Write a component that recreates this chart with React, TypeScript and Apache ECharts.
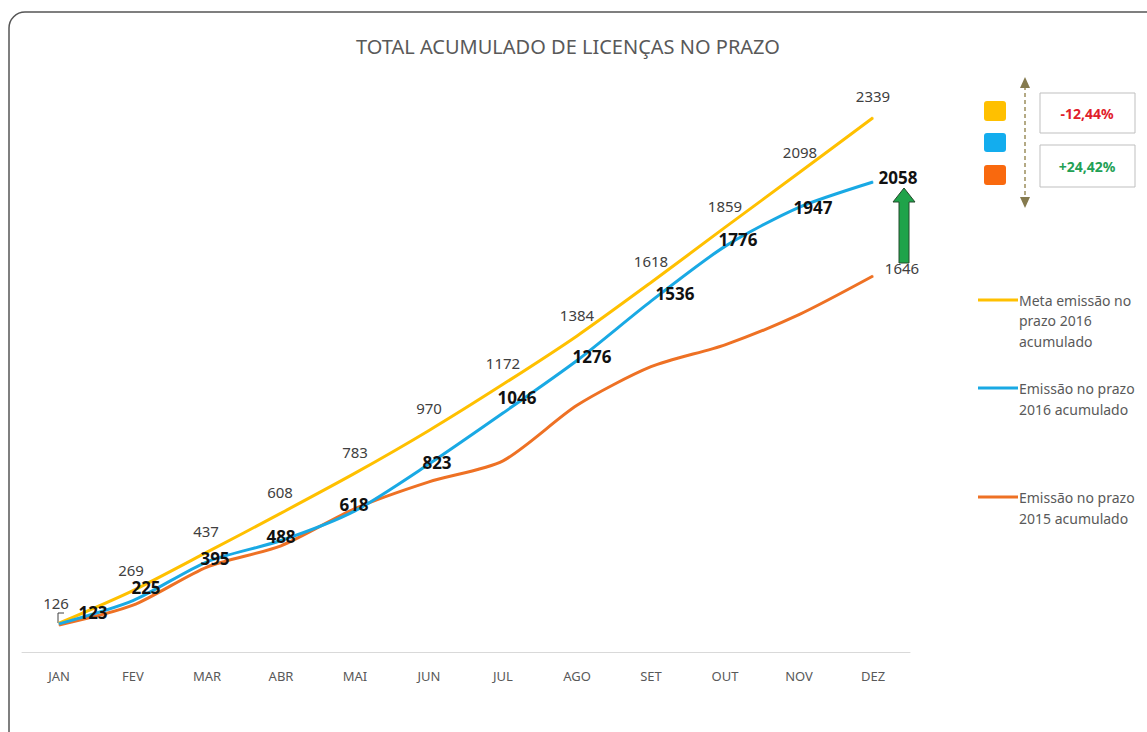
import React, { useEffect, useRef } from "react";
import * as echarts from "echarts";

const months = ["JAN", "FEV", "MAR", "ABR", "MAI", "JUN", "JUL", "AGO", "SET", "OUT", "NOV", "DEZ"];
const meta2016 = [126, 269, 437, 608, 783, 970, 1172, 1384, 1618, 1859, 2098, 2339];
const emissao2016 = [123, 225, 395, 488, 618, 823, 1046, 1276, 1536, 1776, 1947, 2058];
const emissao2015 = [118, 205, 372, 465, 628, 745, 837, 1080, 1249, 1345, 1477, 1646];

const seriesNames = [
  "Meta emissão no prazo 2016 acumulado",
  "Emissão no prazo 2016 acumulado",
  "Emissão no prazo 2015 acumulado",
];
const diffLabels = ["-12,44%", "+24,42%"];

// label offsets (style only)
const blueOffsets = [
  [34, -11], [13, -13], [8, -3], [0, -4], [-1, -6], [8, -2],
  [14, -16], [15, -4], [24, -8], [13, -7], [14, 0], [25, -4],
];
const yellowOffsets = [
  [-3, -20], [-2, -21], [-1, -21], [-1, -21], [0, -21], [0, -22],
  [0, -21], [0, -21], [0, -21], [0, -21], [1, -21], [0, -22],
];

const YELLOW = "#FFC000";
const BLUE = "#19A9E4";
const ORANGE = "#EE7124";
const FONT = "'Noto Sans', 'Open Sans', sans-serif";

export default function App() {
  const ref = useRef<HTMLDivElement>(null);
  useEffect(() => {
    if (!ref.current) return;
    const chart = echarts.init(ref.current, null, { renderer: "svg" });
    const legendText = (x: number, y: number, t: string) => ({
      type: "text",
      x,
      y,
      style: { text: t, fill: "#595959", font: `14px ${FONT}`, textVerticalAlign: "middle" },
    });
    const option: any = {
      animation: false,
      backgroundColor: "#ffffff",
      title: {
        text: "TOTAL ACUMULADO DE LICENÇAS NO PRAZO",
        left: 563,
        textAlign: "center",
        top: 31,
        textStyle: { fontFamily: FONT, fontSize: 20, fontWeight: "normal", color: "#595959" },
      },
      grid: { left: 22, right: 237, top: 81, bottom: 80 },
      xAxis: {
        type: "category",
        data: months,
        boundaryGap: true,
        axisLine: { show: true, lineStyle: { color: "#D9D9D9", width: 1 } },
        axisTick: { show: false },
        axisLabel: { color: "#595959", fontFamily: FONT, fontSize: 13, margin: 17 },
      },
      yAxis: {
        type: "value",
        min: 0,
        max: 2500,
        show: false,
        splitLine: { show: false },
      },
      series: [
        {
          name: seriesNames[2],
          type: "line",
          data: emissao2015.map((v, i) => ({
            value: v,
            label:
              i === emissao2015.length - 1
                ? {
                    show: true,
                    position: "inside",
                    offset: [29, -8],
                    formatter: "{c}",
                    color: "#404040",
                    fontFamily: FONT,
                    fontSize: 15,
                  }
                : { show: false },
          })),
          smooth: 0.25,
          symbol: "circle",
          symbolSize: 1,
          itemStyle: { color: ORANGE },
          lineStyle: { color: ORANGE, width: 3 },
          z: 2,
        },
        {
          name: seriesNames[1],
          type: "line",
          data: emissao2016.map((v, i) => ({
            value: v,
            label: { offset: blueOffsets[i] },
          })),
          smooth: 0.25,
          symbol: "circle",
          symbolSize: 1,
          itemStyle: { color: BLUE },
          lineStyle: { color: BLUE, width: 3 },
          label: {
            show: true,
            position: "inside",
            formatter: "{c}",
            color: "#111111",
            fontFamily: FONT,
            fontWeight: "bold",
            fontSize: 17,
          },
          z: 3,
        },
        {
          name: seriesNames[0],
          type: "line",
          data: meta2016.map((v, i) => ({
            value: v,
            label: { offset: yellowOffsets[i] },
          })),
          smooth: 0.25,
          symbol: "circle",
          symbolSize: 1,
          itemStyle: { color: YELLOW },
          lineStyle: { color: YELLOW, width: 3 },
          label: {
            show: true,
            position: "inside",
            formatter: "{c}",
            color: "#404040",
            fontFamily: FONT,
            fontSize: 15,
          },
          z: 1,
        },
      ],
      graphic: [
        {
          type: "rect",
          shape: { x: 9, y: 12, width: 1160, height: 740, r: 16 },
          style: { fill: "none", stroke: "#555555", lineWidth: 1.5 },
          silent: true,
          z: 100,
        },
        // leader line of first label
        {
          type: "polyline",
          shape: { points: [[58, 623], [58, 613], [64, 613]] },
          style: { stroke: "#404040", lineWidth: 1, fill: "none" },
        },
        // green arrow
        {
          type: "polygon",
          shape: {
            points: [
              [899, 263], [909, 263], [909, 202], [915, 202], [904, 188], [893, 202], [899, 202],
            ],
          },
          style: { fill: "#1FA34A", stroke: "#244a2c", lineWidth: 1 },
        },
        // dashed vertical arrow
        {
          type: "line",
          shape: { x1: 1025, y1: 86, x2: 1025, y2: 199 },
          style: { stroke: "#9C8E5E", lineWidth: 1.5, lineDash: [4, 3] },
        },
        {
          type: "polygon",
          shape: { points: [[1025, 77], [1020, 88], [1030, 88]] },
          style: { fill: "#857A4E" },
        },
        {
          type: "polygon",
          shape: { points: [[1025, 208], [1020, 197], [1030, 197]] },
          style: { fill: "#857A4E" },
        },
        // colored squares
        { type: "rect", shape: { x: 984, y: 101, width: 22, height: 20, r: 3 }, style: { fill: YELLOW } },
        { type: "rect", shape: { x: 984, y: 133, width: 22, height: 19, r: 3 }, style: { fill: "#13ADEE" } },
        { type: "rect", shape: { x: 984, y: 165, width: 22, height: 20, r: 3 }, style: { fill: "#F9690E" } },
        // boxes
        {
          type: "rect",
          shape: { x: 1040, y: 93, width: 95, height: 40 },
          style: { fill: "#ffffff", stroke: "#BFBFBF", lineWidth: 1 },
        },
        {
          type: "text",
          x: 1087,
          y: 113,
          style: {
            text: diffLabels[0],
            fill: "#E0202A",
            font: `bold 14px ${FONT}`,
            textAlign: "center",
            textVerticalAlign: "middle",
          },
        },
        {
          type: "rect",
          shape: { x: 1040, y: 145, width: 95, height: 42 },
          style: { fill: "#ffffff", stroke: "#BFBFBF", lineWidth: 1 },
        },
        {
          type: "text",
          x: 1087,
          y: 166,
          style: {
            text: diffLabels[1],
            fill: "#22A055",
            font: `bold 14px ${FONT}`,
            textAlign: "center",
            textVerticalAlign: "middle",
          },
        },
        // legend
        { type: "line", shape: { x1: 978, y1: 300, x2: 1018, y2: 300 }, style: { stroke: YELLOW, lineWidth: 3 } },
        legendText(1019, 300, "Meta emissão no"),
        legendText(1019, 320, "prazo 2016"),
        legendText(1019, 341, "acumulado"),
        { type: "line", shape: { x1: 978, y1: 388, x2: 1018, y2: 388 }, style: { stroke: BLUE, lineWidth: 3 } },
        legendText(1019, 388, "Emissão no prazo"),
        legendText(1019, 409, "2016 acumulado"),
        { type: "line", shape: { x1: 978, y1: 497, x2: 1018, y2: 497 }, style: { stroke: ORANGE, lineWidth: 3 } },
        legendText(1019, 497, "Emissão no prazo"),
        legendText(1019, 518, "2015 acumulado"),
      ],
    };
    chart.setOption(option);
    return () => chart.dispose();
  }, []);
  return (
    <div
      ref={ref}
      style={{ position: "fixed", left: 0, top: 0, width: 1147, height: 732, background: "#fff" }}
    />
  );
}
